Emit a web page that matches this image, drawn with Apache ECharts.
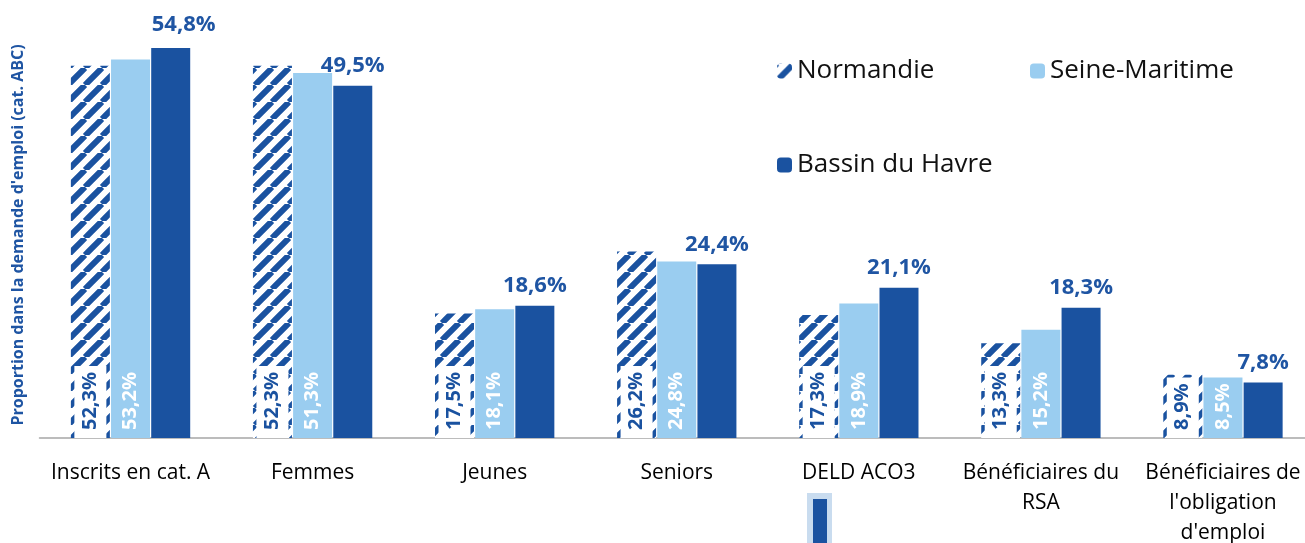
<!DOCTYPE html>
<html>
<head>
  <meta charset="utf-8">
  <title>Proportion dans la demande d'emploi</title>
  <style>
    html, body { margin: 0; padding: 0; background: #fff; }
    #main { width: 1305px; height: 543px; }
  </style>
</head>
<body>
<div id="main"></div>
<script src="https://cdn.jsdelivr.net/npm/echarts@6/dist/echarts.min.js"></script>
<script>
  // données
  var categories = ['Inscrits en cat. A', 'Femmes', 'Jeunes', 'Seniors', 'DELD ACO3',
    'Bénéficiaires du\nRSA', "Bénéficiaires de\nl'obligation\nd'emploi"];
  var normandie = [52.3, 52.3, 17.5, 26.2, 17.3, 13.3, 8.9];
  var seineMaritime = [53.2, 51.3, 18.1, 24.8, 18.9, 15.2, 8.5];
  var bassinHavre = [54.8, 49.5, 18.6, 24.4, 21.1, 18.3, 7.8];

  var darkBlue = '#1a52a0';
  var lightBlue = '#9acdf0';
  var labelBlue = '#1f55a3';
  var font = 'Open Sans';

  // motif hachuré pour la Normandie
  function hatch() {
    var s = 17, c = document.createElement('canvas');
    c.width = s; c.height = s;
    var g = c.getContext('2d');
    g.fillStyle = '#fff';
    g.fillRect(0, 0, s, s);
    g.strokeStyle = darkBlue;
    g.lineWidth = 6;
    g.beginPath();
    for (var k = -1; k <= 1; k++) {
      g.moveTo(k * s, s);
      g.lineTo(k * s + s, 0);
    }
    g.stroke();
    return c;
  }

  function pct(p) {
    return p.value.toFixed(1).replace('.', ',') + '%';
  }

  var legendText = { fontSize: 26, color: '#111', lineHeight: 30 };

  var myChart = echarts.init(document.getElementById('main'));
  myChart.setOption({
    animation: false,
    textStyle: { fontFamily: font },
    grid: { left: 39.5, right: -9, top: 11, bottom: 105, outerBoundsMode: 'none', containLabel: false },
    legend: [
      { data: ['Normandie'], left: 772, top: 51, itemWidth: 15, itemHeight: 15, textStyle: legendText },
      { data: ['Seine-Maritime'], left: 1025, top: 51, itemWidth: 15, itemHeight: 15, textStyle: legendText },
      { data: ['Bassin du Havre'], left: 772, top: 145, itemWidth: 15, itemHeight: 15, textStyle: legendText }
    ],
    xAxis: {
      type: 'category',
      data: categories,
      axisLine: { lineStyle: { color: '#a6a6a6', width: 1.5 } },
      axisTick: { length: 7, lineStyle: { color: '#a6a6a6' } },
      axisLabel: { interval: 0, fontSize: 21, color: '#000', lineHeight: 30, margin: 20 }
    },
    yAxis: {
      type: 'value',
      min: 0,
      max: 60,
      axisLine: { show: false },
      axisTick: { show: false },
      axisLabel: { show: false },
      splitLine: { show: false }
    },
    series: [
      {
        name: 'Normandie',
        type: 'bar',
        data: normandie,
        barWidth: 39,
        barGap: '3%',
        itemStyle: { color: { image: hatch(), repeat: 'repeat' } },
        label: {
          show: true,
          position: 'insideBottom',
          distance: 0,
          rotate: 90,
          align: 'left',
          verticalAlign: 'middle',
          formatter: pct,
          fontSize: 20,
          fontWeight: 'bold',
          color: darkBlue,
          lineHeight: 20,
          backgroundColor: '#fff',
          padding: [6, 6, 6, 8]
        }
      },
      {
        name: 'Seine-Maritime',
        type: 'bar',
        data: seineMaritime,
        barWidth: 39,
        itemStyle: { color: lightBlue },
        label: {
          show: true,
          position: 'insideBottom',
          distance: 8,
          rotate: 90,
          align: 'left',
          verticalAlign: 'middle',
          formatter: pct,
          fontSize: 20,
          fontWeight: 'bold',
          color: '#fff'
        }
      },
      {
        name: 'Bassin du Havre',
        type: 'bar',
        data: bassinHavre.map(function (v, i) {
          return i === 0 ? { value: v, label: { offset: [13, -3] } } : v;
        }),
        barWidth: 39,
        itemStyle: { color: darkBlue },
        label: {
          show: true,
          position: 'top',
          distance: 9,
          formatter: pct,
          fontSize: 22,
          fontWeight: 'bold',
          color: labelBlue
        }
      }
    ],
    graphic: [
      {
        type: 'text', x: 18, y: 235, rotation: Math.PI / 2,
        style: {
          text: "Proportion dans la demande d'emploi (cat. ABC)",
          fill: labelBlue, font: 'bold 16px "Open Sans"', align: 'center', verticalAlign: 'middle'
        }
      },
      { type: 'rect', left: 807, top: 493, shape: { width: 25, height: 50 }, style: { fill: '#c9dcef' } },
      { type: 'rect', left: 813, top: 499, shape: { width: 14, height: 44 }, style: { fill: darkBlue } }
    ]
  });
</script>
</body>
</html>
